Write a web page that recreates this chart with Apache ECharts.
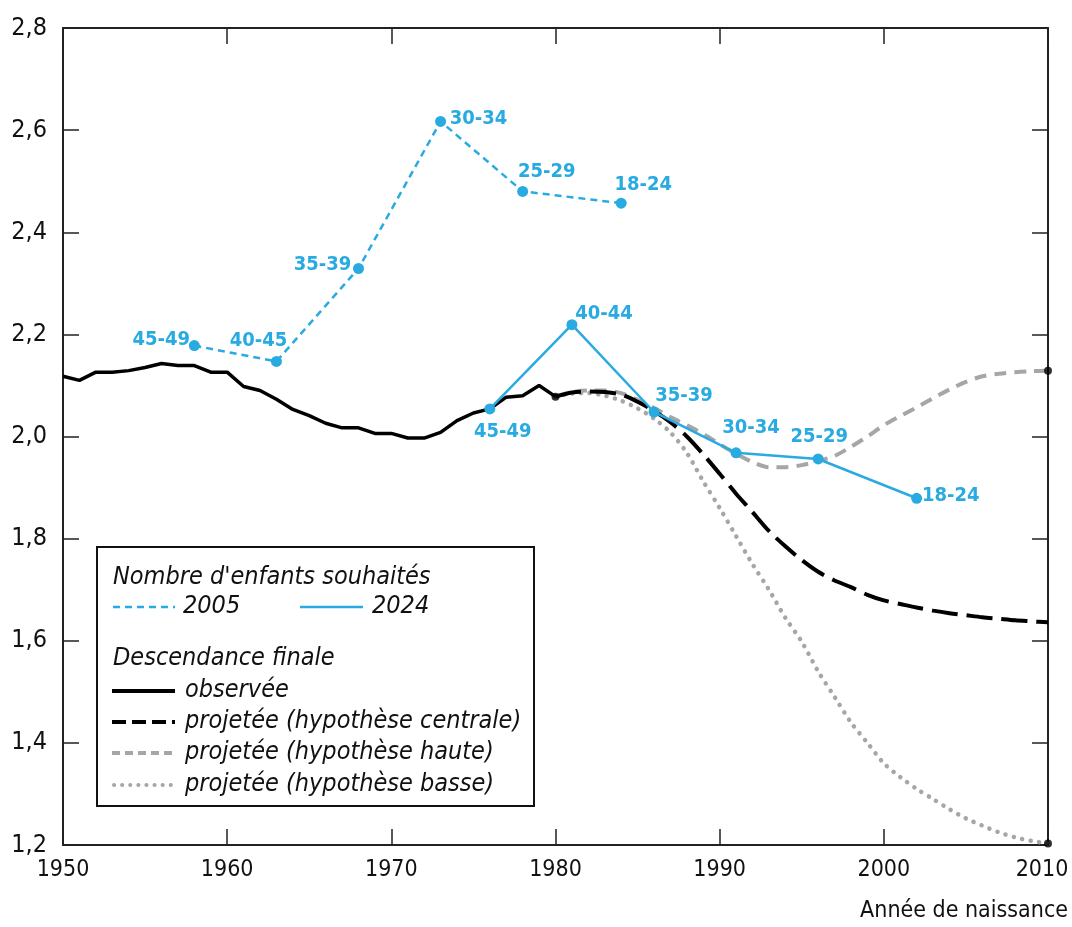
<!DOCTYPE html>
<html>
<head>
<meta charset="utf-8">
<script src="https://cdn.jsdelivr.net/npm/echarts@6/dist/echarts.min.js"></script>
<style>
  html, body { margin: 0; padding: 0; background: #fff; }
  #chart { width: 1072px; height: 927px; }
</style>
</head>
<body>
<div id="chart"></div>
<script>
// descendance finale observée
const obsYears = [1950, 1951, 1952, 1953, 1954, 1955, 1956, 1957, 1958, 1959, 1960,
  1961, 1962, 1963, 1964, 1965, 1966, 1967, 1968, 1969, 1970,
  1971, 1972, 1973, 1974, 1975, 1976, 1977, 1978, 1979, 1980];
const obsValues = [2.118, 2.110, 2.126, 2.126, 2.129, 2.135, 2.143, 2.139, 2.139, 2.126, 2.126,
  2.098, 2.090, 2.073, 2.053, 2.041, 2.026, 2.017, 2.017, 2.006, 2.006,
  1.997, 1.997, 2.008, 2.031, 2.046, 2.054, 2.077, 2.080, 2.100, 2.078];

// projections
const projYears = [1980, 1981, 1982, 1983, 1984, 1985, 1986, 1987, 1988, 1989, 1990,
  1991, 1992, 1993, 1994, 1995, 1996, 1997, 1998, 1999, 2000,
  2001, 2002, 2003, 2004, 2005, 2006, 2007, 2008, 2009, 2010];
const centralValues = [2.078, 2.086, 2.088, 2.087, 2.082, 2.068, 2.050, 2.028, 2.000, 1.965, 1.927,
  1.888, 1.852, 1.815, 1.785, 1.758, 1.735, 1.718, 1.705, 1.690, 1.679,
  1.672, 1.665, 1.659, 1.654, 1.650, 1.646, 1.643, 1.640, 1.638, 1.636];
const highValues = [2.078, 2.087, 2.090, 2.090, 2.085, 2.072, 2.056, 2.038, 2.022, 2.005, 1.985,
  1.966, 1.950, 1.940, 1.940, 1.944, 1.952, 1.962, 1.980, 2.000, 2.022,
  2.040, 2.057, 2.075, 2.092, 2.107, 2.118, 2.123, 2.126, 2.128, 2.129];
const lowValues = [2.078, 2.084, 2.085, 2.080, 2.070, 2.055, 2.035, 2.008, 1.968, 1.912, 1.860,
  1.805, 1.750, 1.700, 1.645, 1.598, 1.540, 1.490, 1.440, 1.400, 1.360,
  1.333, 1.310, 1.290, 1.270, 1.252, 1.238, 1.225, 1.215, 1.208, 1.203];

// nombre d'enfants souhaités
const wish2005Years = [1958, 1963, 1968, 1973, 1978, 1984];
const wish2005Values = [2.178, 2.147, 2.329, 2.617, 2.480, 2.457];
const wish2005Labels = ['45-49', '40-45', '35-39', '30-34', '25-29', '18-24'];
const wish2024Years = [1976, 1981, 1986, 1991, 1996, 2002];
const wish2024Values = [2.054, 2.219, 2.048, 1.968, 1.956, 1.879];
const wish2024Labels = ['45-49', '40-44', '35-39', '30-34', '25-29', '18-24'];

// position des étiquettes (décalage par rapport au point)
const offsets2005 = [[-33, -6], [-18, -21], [-36, -4], [38, -3], [24, -20], [22, -18]];
const offsets2024 = [[13, 23], [32, -11], [30, -16], [15, -25], [1, -22], [34, -2]];

const BLUE = '#29abe2';
const GREY = '#a6a6a6';
const FONT = "'DejaVu Sans Condensed', 'Noto Sans', sans-serif";

function pairs(xs, ys) {
  return xs.map((x, i) => [x, ys[i]]);
}

function labelled(xs, ys, labels, offs) {
  return xs.map((x, i) => ({
    value: [x, ys[i]],
    label: { formatter: labels[i], offset: offs[i] }
  }));
}

const chart = echarts.init(document.getElementById('chart'));

function legendLine(x1, x2, y, color, width, dash, cap) {
  return {
    type: 'line',
    shape: { x1: x1, y1: y, x2: x2, y2: y },
    style: { stroke: color, lineWidth: width, lineDash: dash, lineCap: cap || 'butt' }
  };
}
function legendText(x, y, text) {
  return {
    type: 'text',
    x: x, y: y,
    style: { text: text, font: 'italic 25px ' + FONT, fill: '#111', verticalAlign: 'middle' }
  };
}

// légende dessinée à la main
const graphics = [
  {
    type: 'rect',
    shape: { x: 97, y: 547, width: 437, height: 259 },
    style: { fill: '#fff', stroke: '#111', lineWidth: 2 }
  },
  legendText(113, 577, "Nombre d'enfants souhaités"),
  legendLine(113, 175, 607, BLUE, 2.5, [7, 5]),
  legendText(183, 606, '2005'),
  legendLine(300, 363, 607, BLUE, 2.5, null),
  legendText(372, 606, '2024'),
  legendText(113, 658, 'Descendance finale'),
  legendLine(112, 175, 691, '#000', 4, null),
  legendText(185, 690, 'observée'),
  legendLine(112, 175, 722, '#000', 4, [14, 6]),
  legendText(185, 721, 'projetée (hypothèse centrale)'),
  legendLine(112, 175, 753, GREY, 4, [8, 5]),
  legendText(185, 752, 'projetée (hypothèse haute)'),
  legendLine(114, 175, 785, GREY, 4, [0.1, 8], 'round'),
  legendText(185, 784, 'projetée (hypothèse basse)'),
  {
    type: 'text',
    right: 4, top: 900,
    style: { text: 'Année de naissance', font: '23px ' + FONT, fill: '#111' }
  }
];

const axisColor = '#222';
const tickStyle = { show: true, inside: true, length: 16, lineStyle: { color: axisColor, width: 1.5 } };

chart.setOption({
  animation: false,
  backgroundColor: '#fff',
  grid: { left: 63, right: 24, top: 28, bottom: 82, outerBoundsMode: 'none', containLabel: false },
  xAxis: [
    {
      type: 'value', min: 1950, max: 2010, interval: 10,
      axisLine: { show: true, onZero: false, lineStyle: { color: axisColor, width: 2 } },
      axisTick: tickStyle,
      splitLine: { show: false },
      axisLabel: {
        color: '#111', fontSize: 23, fontFamily: FONT, margin: 14,
        // le dernier libellé est décalé pour rester dans le cadre
        formatter: v => (v === 2010 ? '{last|' + v + '}' : String(v)),
        rich: {
          last: { color: '#111', fontSize: 23, fontFamily: FONT, padding: [0, 12, 0, 0] }
        }
      }
    },
    {
      type: 'value', position: 'top', min: 1950, max: 2010, interval: 10,
      axisLine: { show: true, onZero: false, lineStyle: { color: axisColor, width: 2 } },
      axisTick: tickStyle,
      splitLine: { show: false },
      axisLabel: { show: false }
    }
  ],
  yAxis: [
    {
      type: 'value', min: 1.2, max: 2.8, interval: 0.2,
      axisLine: { show: true, onZero: false, lineStyle: { color: axisColor, width: 2 } },
      axisTick: tickStyle,
      splitLine: { show: false },
      axisLabel: {
        color: '#111', fontSize: 25, fontFamily: FONT, margin: 16,
        formatter: v => v.toFixed(1).replace('.', ',')
      }
    },
    {
      type: 'value', position: 'right', min: 1.2, max: 2.8, interval: 0.2,
      axisLine: { show: true, onZero: false, lineStyle: { color: axisColor, width: 2 } },
      axisTick: tickStyle,
      splitLine: { show: false },
      axisLabel: { show: false }
    }
  ],
  graphic: graphics,
  series: [
    {
      name: 'basse', type: 'line', data: pairs(projYears, lowValues),
      showSymbol: false, smooth: 0.3, z: 2,
      lineStyle: { color: GREY, width: 4.5, type: [0.1, 8.5], cap: 'round' }
    },
    {
      name: 'haute', type: 'line', data: pairs(projYears, highValues),
      showSymbol: false, smooth: 0.3, z: 2,
      lineStyle: { color: GREY, width: 4, type: [12, 8] }
    },
    {
      name: 'centrale', type: 'line', data: pairs(projYears, centralValues),
      showSymbol: false, smooth: 0.3, z: 3,
      lineStyle: { color: '#000', width: 4, type: [26, 9] }
    },
    {
      name: 'observée', type: 'line', data: pairs(obsYears, obsValues),
      showSymbol: false, z: 3,
      lineStyle: { color: '#000', width: 3.5 }
    },
    {
      name: 'points', type: 'scatter', z: 4,
      symbolSize: 8,
      itemStyle: { color: '#000' },
      data: [
        [obsYears[obsYears.length - 1], obsValues[obsValues.length - 1]],
        [projYears[projYears.length - 1], highValues[highValues.length - 1]],
        [projYears[projYears.length - 1], lowValues[lowValues.length - 1]]
      ]
    },
    {
      name: '2005', type: 'line', z: 5,
      data: labelled(wish2005Years, wish2005Values, wish2005Labels, offsets2005),
      symbol: 'circle', symbolSize: 11,
      itemStyle: { color: BLUE },
      lineStyle: { color: BLUE, width: 2.5, type: [7, 5] },
      label: {
        show: true, position: 'inside', color: BLUE, fontWeight: 'bold',
        fontSize: 20, fontFamily: FONT, align: 'center', verticalAlign: 'middle'
      }
    },
    {
      name: '2024', type: 'line', z: 5,
      data: labelled(wish2024Years, wish2024Values, wish2024Labels, offsets2024),
      symbol: 'circle', symbolSize: 11,
      itemStyle: { color: BLUE },
      lineStyle: { color: BLUE, width: 2.5 },
      label: {
        show: true, position: 'inside', color: BLUE, fontWeight: 'bold',
        fontSize: 20, fontFamily: FONT, align: 'center', verticalAlign: 'middle'
      }
    }
  ]
});
</script>
</body>
</html>
